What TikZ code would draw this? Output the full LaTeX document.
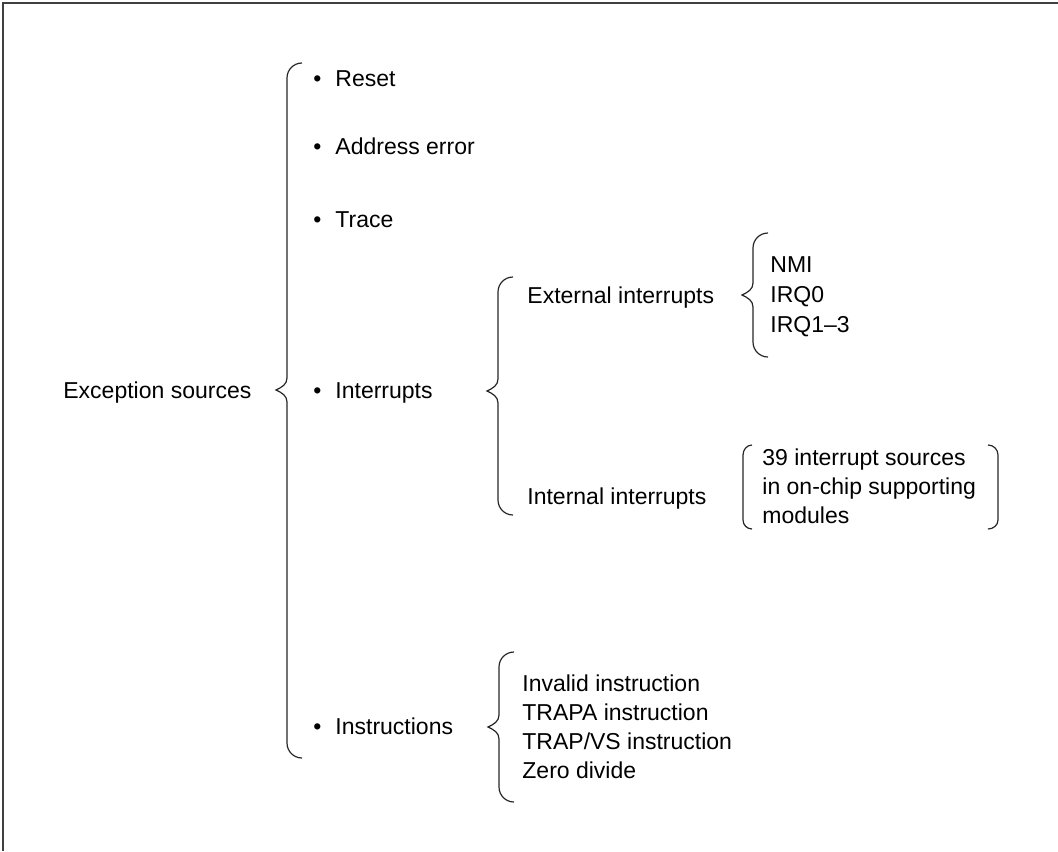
\documentclass[tikz,border=0pt]{standalone}
\usepackage{fontspec}
\setmainfont{Liberation Sans}

% left curly brace: x of stem, top end, tip, bottom end
\newcommand{\curlybrace}[4]{%
  \draw[brace] (#1+15,#2) to[out=180,in=90] (#1,#2+15) -- (#1,#3-12)
    to[out=-90,in=25] (#1-11,#3) to[out=-25,in=90] (#1,#3+12) -- (#1,#4-15)
    to[out=-90,in=180] (#1+15,#4);}

\begin{document}
\begin{tikzpicture}[x=0.5pt, y=-0.5pt,
    brace/.style={line width=0.6pt, black!85},
    txt/.style={anchor=base west, inner sep=0pt, font=\fontsize{11.5}{14.5}\selectfont},
    list/.style={txt, align=left}]
  \useasboundingbox (0,0) rectangle (1058,851);

  % ==== frame ====
  \draw[line width=1.4pt, black!75] (1058,3) -- (3,3) -- (3,851);

  % ==== root ====
  \node[txt] (exc) at (63,398) {Exception sources};
  \curlybrace{287}{63}{390}{758}

  % ==== first level ====
  \node[txt] (reset) at (313,86) {\textbullet\hspace{7pt}Reset};
  \node[txt] (addr) at (313,154) {\textbullet\hspace{7pt}Address error};
  \node[txt] (trace) at (313,227) {\textbullet\hspace{7pt}Trace};
  \node[txt] (intr) at (313,398) {\textbullet\hspace{7pt}Interrupts};
  \node[txt] (instr) at (313,734) {\textbullet\hspace{7pt}Instructions};

  % ==== interrupts ====
  \curlybrace{498}{277}{391}{515}
  \node[txt] (ext) at (527,303) {External interrupts};
  \node[txt] (int) at (527,504) {Internal interrupts};

  % external sources (anchored at the last line)
  \curlybrace{753}{233}{295}{357}
  \node[list, font=\fontsize{11.5}{15}\selectfont] (extlist) at (770,332)
    {NMI\\IRQ0\\IRQ1--3};

  % internal sources
  \draw[brace] (752,445) to[out=180,in=90] (743,455) -- (743,520) to[out=-90,in=180] (752,529);
  \draw[brace] (988,445) to[out=0,in=90] (998,455) -- (998,520) to[out=-90,in=0] (988,529);
  \node[list] (intlist) at (762,523)
    {39 interrupt sources\\in on-chip supporting\\modules};

  % ==== instructions ====
  \curlybrace{499}{652}{727}{802}
  \node[list, font=\fontsize{11.5}{14.35}\selectfont] (instrlist) at (522,778)
    {Invalid instruction\\TRAPA instruction\\TRAP/VS instruction\\Zero divide};
\end{tikzpicture}
\end{document}
